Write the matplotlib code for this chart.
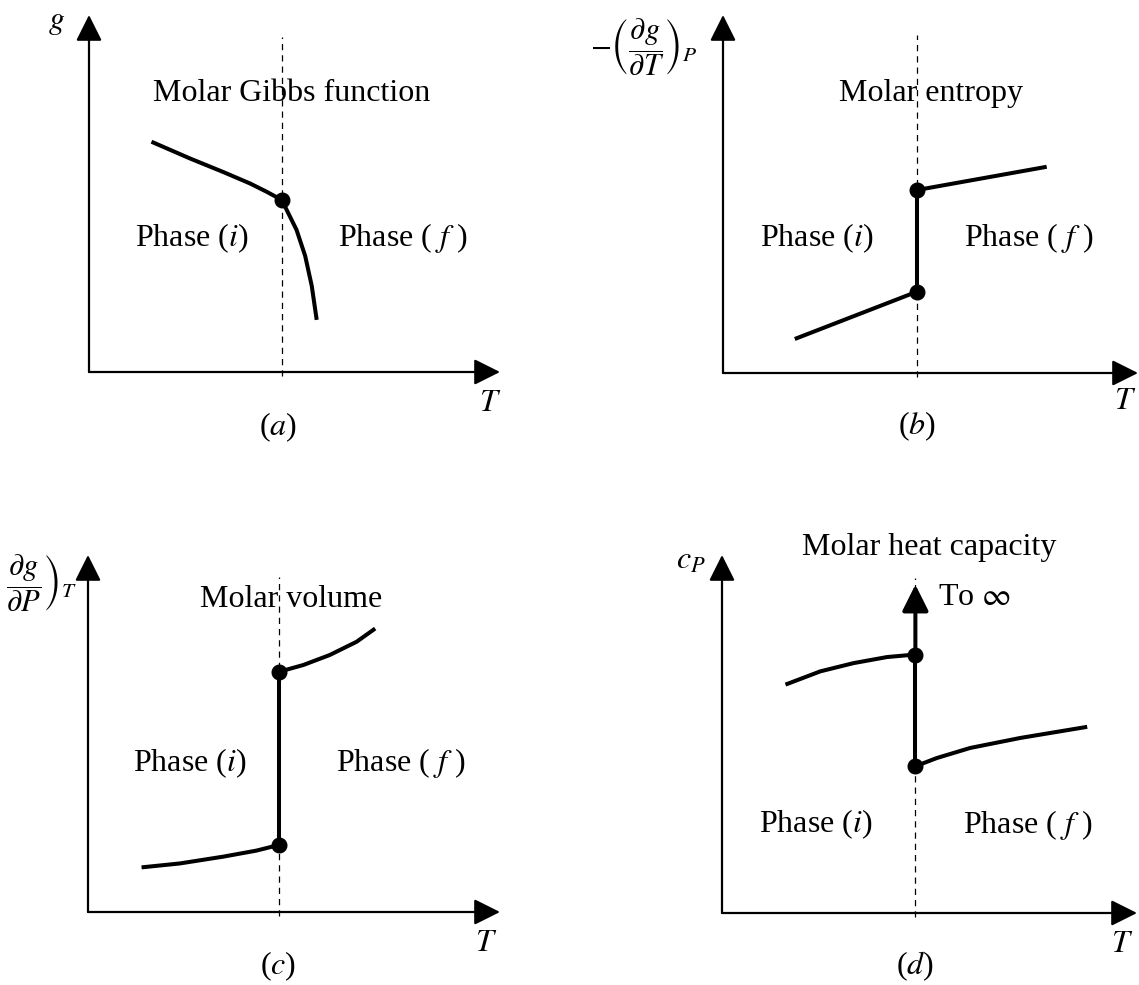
import matplotlib
matplotlib.use("Agg")
import matplotlib.pyplot as plt

plt.rcParams["font.family"] = ["Liberation Serif", "DejaVu Serif"]
plt.rcParams["mathtext.fontset"] = "stix"

# ---- data (arbitrary units, axes run 0..10) ----
# (a) molar Gibbs function
gibbs_Ti = [1.52, 2.46, 3.27, 3.92, 4.32, 4.69]
gibbs_gi = [6.45, 5.98, 5.60, 5.28, 5.05, 4.82]
gibbs_Tf = [4.69, 4.81, 5.05, 5.26, 5.42, 5.54]
gibbs_gf = [4.82, 4.54, 3.98, 3.25, 2.41, 1.46]
gibbs_Tt = 4.69

# (b) molar entropy
ent_Ti = [1.73, 4.67]
ent_si = [0.95, 2.27]
ent_Tf = [4.67, 7.80]
ent_sf = [5.11, 5.76]
ent_Tt = 4.67

# (c) molar volume
vol_Ti = [1.30, 2.23, 3.28, 4.09, 4.64]
vol_vi = [1.25, 1.36, 1.55, 1.72, 1.88]
vol_Tf = [4.64, 5.23, 5.87, 6.52, 6.97]
vol_vf = [6.73, 6.92, 7.20, 7.57, 7.94]
vol_Tt = 4.64

# (d) molar heat capacity
cp_Ti = [1.53, 2.37, 3.17, 3.98, 4.66]
cp_ci = [6.38, 6.75, 6.98, 7.15, 7.22]
cp_Tf = [4.66, 5.18, 5.98, 7.19, 8.80]
cp_cf = [4.10, 4.33, 4.61, 4.89, 5.20]
cp_Tt = 4.66
cp_inf_top = 9.17

W, H = 1139, 985
fig = plt.figure(figsize=(W / 100, H / 100), dpi=100)

FS = 23
CURVE_LW = 2.9
AXIS_LW = 1.6
ARROW = "-|>,head_length=0.8,head_width=0.4"


def make_panel(x0, y0, xt, yt):
    ax = fig.add_axes([x0 / W, 1 - y0 / H, (xt - x0) / W, (y0 - yt) / H])
    ax.set_xlim(0, 10)
    ax.set_ylim(0, 10)
    ax.axis("off")
    for end in [(10, 0), (0, 10)]:
        ax.annotate("", xy=end, xytext=(0, 0),
                    arrowprops=dict(arrowstyle=ARROW, lw=AXIS_LW, color="black",
                                    shrinkA=0, shrinkB=0, mutation_scale=20))
    return ax


def dashed(ax, T, top):
    ax.plot([T, T], [-0.12, top], ls=(0, (5, 4)), lw=0.9, color="black",
            clip_on=False, zorder=1)


def curve(ax, x, y):
    ax.plot(x, y, color="black", lw=CURVE_LW, solid_capstyle="butt",
            solid_joinstyle="round", clip_on=False, zorder=3)


def dot(ax, x, y):
    ax.plot([x], [y], "o", color="black", ms=10.5, clip_on=False, zorder=4)


def txt(ax, x, y, s, size=FS, ha="center"):
    ax.text(x, y, s, fontsize=size, ha=ha, va="center")


PH_I = r"Phase ($\mathit{i}$)"
PH_F = r"Phase ( $\mathit{f}$ )"

# (a)
ax = make_panel(89, 372, 500, 15)
dashed(ax, gibbs_Tt, 9.38)
curve(ax, gibbs_Ti, gibbs_gi)
curve(ax, gibbs_Tf, gibbs_gf)
dot(ax, gibbs_Tt, gibbs_gi[-1])
txt(ax, 4.93, 7.81, "Molar Gibbs function")
txt(ax, 2.50, 3.75, PH_I)
txt(ax, 7.63, 3.75, PH_F)
txt(ax, 9.76, -0.87, r"$\mathit{T}$")
txt(ax, 4.60, -1.54, r"($\mathit{a}$)")
txt(ax, -0.78, 9.78, r"$\mathit{g}$")

# (b)
ax = make_panel(723, 373, 1138, 15)
dashed(ax, ent_Tt, 9.44)
curve(ax, ent_Ti, ent_si)
curve(ax, [ent_Tt, ent_Tt], [ent_si[-1], ent_sf[0]])
curve(ax, ent_Tf, ent_sf)
dot(ax, ent_Tt, ent_si[-1])
dot(ax, ent_Tt, ent_sf[0])
txt(ax, 5.01, 7.82, "Molar entropy")
txt(ax, 2.26, 3.77, PH_I)
txt(ax, 7.37, 3.77, PH_F)
txt(ax, 9.69, -0.81, r"$\mathit{T}$")
txt(ax, 4.67, -1.50, r"($\mathit{b}$)")
txt(ax, -1.90, 9.10,
    r"$-\left(\dfrac{\partial g}{\partial T}\right)_P$", size=22)

# (c)
ax = make_panel(88, 912, 500, 555)
dashed(ax, vol_Tt, 9.38)
curve(ax, vol_Ti, vol_vi)
curve(ax, [vol_Tt, vol_Tt], [vol_vi[-1], vol_vf[0]])
curve(ax, vol_Tf, vol_vf)
dot(ax, vol_Tt, vol_vi[-1])
dot(ax, vol_Tt, vol_vf[0])
txt(ax, 4.92, 8.74, "Molar volume")
txt(ax, 2.48, 4.16, PH_I)
txt(ax, 7.59, 4.16, PH_F)
txt(ax, 9.67, -0.88, r"$\mathit{T}$")
txt(ax, 4.61, -1.53, r"($\mathit{c}$)")
txt(ax, -1.13, 9.20,
    r"$\left.\dfrac{\partial g}{\partial P}\right)_T$", size=22)

# (d)
ax = make_panel(722, 913, 1137, 555)
dashed(ax, cp_Tt, 9.37)
curve(ax, cp_Ti, cp_ci)
curve(ax, [cp_Tt, cp_Tt], [cp_cf[0], cp_ci[-1]])
ax.annotate("", xy=(cp_Tt, cp_inf_top), xytext=(cp_Tt, cp_ci[-1]),
            arrowprops=dict(arrowstyle=ARROW, lw=CURVE_LW, color="black",
                            shrinkA=0, shrinkB=0, mutation_scale=20), zorder=3)
curve(ax, cp_Tf, cp_cf)
dot(ax, cp_Tt, cp_ci[-1])
dot(ax, cp_Tt, cp_cf[0])
txt(ax, 5.00, 10.20, "Molar heat capacity")
txt(ax, 5.21, 8.81, r"To $\infty$", ha="left")
txt(ax, 2.27, 2.47, PH_I)
txt(ax, 7.37, 2.47, PH_F)
txt(ax, 9.64, -0.88, r"$\mathit{T}$")
txt(ax, 4.66, -1.49, r"($\mathit{d}$)")
txt(ax, -0.76, 9.82, r"$c_P$")

fig.savefig("out.png", dpi=100, facecolor="white")
